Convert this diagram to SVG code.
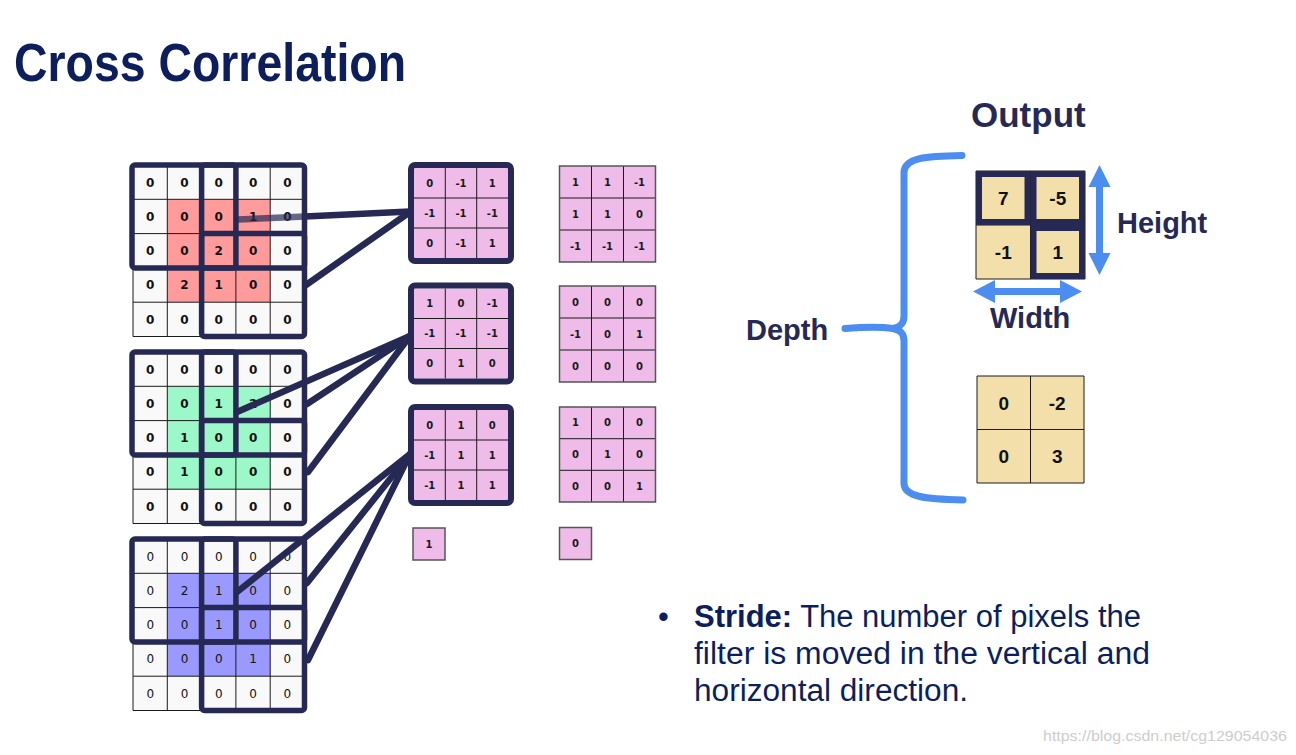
<svg xmlns="http://www.w3.org/2000/svg" width="1296" height="755" viewBox="0 0 1296 755">
<style>
.bg{fill:#f9f9f9}
.gl{fill:none;stroke:#1a1a1a;stroke-width:1}
.frame{fill:none;stroke:#262954;stroke-width:5.5}
.num{font-family:"DejaVu Sans",Verdana,sans-serif;font-size:12px;font-weight:bold;fill:#111;text-anchor:middle}
.numr{font-family:"DejaVu Sans",Verdana,sans-serif;font-size:12px;fill:#111;text-anchor:middle}
.fnum{font-family:"DejaVu Sans",Verdana,sans-serif;font-size:10px;font-weight:bold;fill:#1a1a1a;text-anchor:middle}
.pink{fill:#efbbe8}
.fframe{fill:none;stroke:#262954;stroke-width:6}
.fbox{fill:none;stroke:#555;stroke-width:1.5}
.conn{stroke:#262954;stroke-width:6.5;stroke-linecap:round;fill:none}
.lbl{font-family:"Liberation Sans",Arial,sans-serif;font-weight:bold;fill:#262954}
.tan{fill:#f3dfaa}
.onum{font-family:"Liberation Sans",Arial,sans-serif;font-size:19px;font-weight:bold;fill:#111;text-anchor:middle}
.oframe{fill:none;stroke:#262954;stroke-width:6}
.blue{fill:none;stroke:#4b8ef0;stroke-width:7;stroke-linecap:round;stroke-linejoin:round}
.barrow{fill:#4b8ef0}
.body{font-family:"Liberation Sans",Arial,sans-serif;font-size:31px;fill:#0c1f5c}
</style>

<g id="title">
<text x="14" y="81" font-family="Liberation Sans, Arial, sans-serif" font-size="54" font-weight="bold" fill="#0c1f5c" textLength="392" lengthAdjust="spacingAndGlyphs">Cross Correlation</text>
</g>

<!-- Input channel R -->
<g id="input-red">
<rect class="bg" x="133" y="165" width="171.5" height="171.5"/>
<rect x="167.3" y="199.3" width="102.9" height="102.9" fill="#ff9b9b"/>
<path class="gl" d="M133 165V336.5M167.3 165V336.5M201.6 165V336.5M235.9 165V336.5M270.2 165V336.5M304.5 165V336.5M133 165H304.5M133 199.3H304.5M133 233.6H304.5M133 267.9H304.5M133 302.2H304.5M133 336.5H304.5"/>
<text class="num" x="150.2 184.5 218.8 253.1 287.4" y="186.5">00000</text>
<text class="num" x="150.2 184.5 218.8 253.1 287.4" y="220.8">00010</text>
<text class="num" x="150.2 184.5 218.8 253.1 287.4" y="255.1">00200</text>
<text class="num" x="150.2 184.5 218.8 253.1 287.4" y="289.4">02100</text>
<text class="num" x="150.2 184.5 218.8 253.1 287.4" y="323.7">00000</text>
<rect class="frame" x="132" y="165" width="103.9" height="102.9" rx="3"/>
<rect class="frame" x="201.6" y="165" width="102.9" height="102.9" rx="3"/>
<rect class="frame" x="201.6" y="233.6" width="102.9" height="102.9" rx="3"/>
</g>

<!-- Input channel G -->
<g id="input-green">
<rect class="bg" x="133" y="352" width="171.5" height="171.5"/>
<rect x="167.3" y="386.3" width="102.9" height="102.9" fill="#9cf8c8"/>
<path class="gl" d="M133 352V523.5M167.3 352V523.5M201.6 352V523.5M235.9 352V523.5M270.2 352V523.5M304.5 352V523.5M133 352H304.5M133 386.3H304.5M133 420.6H304.5M133 454.9H304.5M133 489.2H304.5M133 523.5H304.5"/>
<text class="num" x="150.2 184.5 218.8 253.1 287.4" y="373.5">00000</text>
<text class="num" x="150.2 184.5 218.8 253.1 287.4" y="407.8">00120</text>
<text class="num" x="150.2 184.5 218.8 253.1 287.4" y="442.1">01000</text>
<text class="num" x="150.2 184.5 218.8 253.1 287.4" y="476.4">01000</text>
<text class="num" x="150.2 184.5 218.8 253.1 287.4" y="510.7">00000</text>
<rect class="frame" x="132" y="352" width="103.9" height="102.9" rx="3"/>
<rect class="frame" x="201.6" y="352" width="102.9" height="102.9" rx="3"/>
<rect class="frame" x="201.6" y="420.6" width="102.9" height="102.9" rx="3"/>
</g>

<!-- Input channel B -->
<g id="input-blue">
<rect class="bg" x="133" y="539" width="171.5" height="171.5"/>
<rect x="167.3" y="573.3" width="102.9" height="102.9" fill="#9999ff"/>
<path class="gl" d="M133 539V710.5M167.3 539V710.5M201.6 539V710.5M235.9 539V710.5M270.2 539V710.5M304.5 539V710.5M133 539H304.5M133 573.3H304.5M133 607.6H304.5M133 641.9H304.5M133 676.2H304.5M133 710.5H304.5"/>
<text class="numr" x="150.2 184.5 218.8 253.1 287.4" y="560.5">00000</text>
<text class="numr" x="150.2 184.5 218.8 253.1 287.4" y="594.8">02100</text>
<text class="numr" x="150.2 184.5 218.8 253.1 287.4" y="629.1">00100</text>
<text class="numr" x="150.2 184.5 218.8 253.1 287.4" y="663.4">00010</text>
<text class="numr" x="150.2 184.5 218.8 253.1 287.4" y="697.7">00000</text>
<rect class="frame" x="132" y="539" width="103.9" height="102.9" rx="3"/>
<rect class="frame" x="201.6" y="539" width="102.9" height="102.9" rx="3"/>
<rect class="frame" x="201.6" y="607.6" width="102.9" height="102.9" rx="3"/>
</g>

<!-- Filter W0 -->
<g id="w0-r">
<rect class="pink" x="414" y="168" width="94" height="90"/>
<path class="gl" d="M445.3 168V258M476.7 168V258M414 198H508M414 228H508"/>
<text class="fnum" x="429.7" y="186.6">0</text><text class="fnum" x="461" y="186.6">-1</text><text class="fnum" x="492.3" y="186.6">1</text>
<text class="fnum" x="429.7" y="216.6">-1</text><text class="fnum" x="461" y="216.6">-1</text><text class="fnum" x="492.3" y="216.6">-1</text>
<text class="fnum" x="429.7" y="246.6">0</text><text class="fnum" x="461" y="246.6">-1</text><text class="fnum" x="492.3" y="246.6">1</text>
<rect class="fframe" x="411" y="165" width="100" height="96" rx="4"/>
</g>
<g id="w0-g">
<rect class="pink" x="414" y="288.5" width="94" height="90"/>
<path class="gl" d="M445.3 288.5V378.5M476.7 288.5V378.5M414 318.5H508M414 348.5H508"/>
<text class="fnum" x="429.7" y="307.1">1</text><text class="fnum" x="461" y="307.1">0</text><text class="fnum" x="492.3" y="307.1">-1</text>
<text class="fnum" x="429.7" y="337.1">-1</text><text class="fnum" x="461" y="337.1">-1</text><text class="fnum" x="492.3" y="337.1">-1</text>
<text class="fnum" x="429.7" y="367.1">0</text><text class="fnum" x="461" y="367.1">1</text><text class="fnum" x="492.3" y="367.1">0</text>
<rect class="fframe" x="411" y="285.5" width="100" height="96" rx="4"/>
</g>
<g id="w0-b">
<rect class="pink" x="414" y="410" width="94" height="90"/>
<path class="gl" d="M445.3 410V500M476.7 410V500M414 440H508M414 470H508"/>
<text class="fnum" x="429.7" y="428.6">0</text><text class="fnum" x="461" y="428.6">1</text><text class="fnum" x="492.3" y="428.6">0</text>
<text class="fnum" x="429.7" y="458.6">-1</text><text class="fnum" x="461" y="458.6">1</text><text class="fnum" x="492.3" y="458.6">1</text>
<text class="fnum" x="429.7" y="488.6">-1</text><text class="fnum" x="461" y="488.6">1</text><text class="fnum" x="492.3" y="488.6">1</text>
<rect class="fframe" x="411" y="407" width="100" height="96" rx="4"/>
</g>
<g id="b0">
<rect class="pink" x="413" y="528" width="32" height="32"/>
<rect class="fbox" x="413" y="528" width="32" height="32"/>
<text class="fnum" x="429" y="547.6">1</text>
</g>

<!-- Filter W1 -->
<g id="w1-r">
<rect class="pink" x="559.5" y="166" width="96" height="96"/>
<path class="gl" d="M591.5 166V262M623.5 166V262M559.5 198H655.5M559.5 230H655.5"/>
<rect class="fbox" x="559.5" y="166" width="96" height="96"/>
<text class="fnum" x="575.5" y="185.6">1</text><text class="fnum" x="607.5" y="185.6">1</text><text class="fnum" x="639.5" y="185.6">-1</text>
<text class="fnum" x="575.5" y="217.6">1</text><text class="fnum" x="607.5" y="217.6">1</text><text class="fnum" x="639.5" y="217.6">0</text>
<text class="fnum" x="575.5" y="249.6">-1</text><text class="fnum" x="607.5" y="249.6">-1</text><text class="fnum" x="639.5" y="249.6">-1</text>
</g>
<g id="w1-g">
<rect class="pink" x="559.5" y="286" width="96" height="96"/>
<path class="gl" d="M591.5 286V382M623.5 286V382M559.5 318H655.5M559.5 350H655.5"/>
<rect class="fbox" x="559.5" y="286" width="96" height="96"/>
<text class="fnum" x="575.5" y="305.6">0</text><text class="fnum" x="607.5" y="305.6">0</text><text class="fnum" x="639.5" y="305.6">0</text>
<text class="fnum" x="575.5" y="337.6">-1</text><text class="fnum" x="607.5" y="337.6">0</text><text class="fnum" x="639.5" y="337.6">1</text>
<text class="fnum" x="575.5" y="369.6">0</text><text class="fnum" x="607.5" y="369.6">0</text><text class="fnum" x="639.5" y="369.6">0</text>
</g>
<g id="w1-b">
<rect class="pink" x="559.5" y="407" width="96" height="95"/>
<path class="gl" d="M591.5 407V502M623.5 407V502M559.5 438.7H655.5M559.5 470.3H655.5"/>
<rect class="fbox" x="559.5" y="407" width="96" height="95"/>
<text class="fnum" x="575.5" y="426.4">1</text><text class="fnum" x="607.5" y="426.4">0</text><text class="fnum" x="639.5" y="426.4">0</text>
<text class="fnum" x="575.5" y="458.1">0</text><text class="fnum" x="607.5" y="458.1">1</text><text class="fnum" x="639.5" y="458.1">0</text>
<text class="fnum" x="575.5" y="489.8">0</text><text class="fnum" x="607.5" y="489.8">0</text><text class="fnum" x="639.5" y="489.8">1</text>
</g>
<g id="b1">
<rect class="pink" x="559.5" y="527.5" width="32" height="32"/>
<rect class="fbox" x="559.5" y="527.5" width="32" height="32"/>
<text class="fnum" x="575.5" y="547.1">0</text>
</g>

<!-- Connectors -->
<g id="connectors">
<line class="conn" x1="238" y1="219.5" x2="305" y2="216.4" stroke="#6a1530" stroke-opacity="0.7"/>
<line class="conn" x1="305" y1="216.4" x2="410" y2="211.5"/>
<line class="conn" x1="306" y1="285" x2="410" y2="212"/>
<line class="conn" x1="237" y1="412" x2="410" y2="336"/>
<line class="conn" x1="307" y1="404" x2="410" y2="336"/>
<line class="conn" x1="308" y1="472" x2="410" y2="336"/>
<line class="conn" x1="237" y1="592" x2="410" y2="454"/>
<line class="conn" x1="307" y1="583" x2="410" y2="454"/>
<line class="conn" x1="308" y1="660" x2="410" y2="454"/>
</g>

<!-- Output -->
<g id="output-label">
<text class="lbl" x="971" y="127" font-size="35">Output</text>
</g>
<g id="output-0">
<rect class="tan" x="976" y="171" width="109" height="108"/>
<path class="gl" d="M976 171H1085V279H976ZM1030.5 171V279M976 225H1085"/>
<rect class="oframe" x="979" y="174" width="48.5" height="48"/>
<rect class="oframe" x="1033.5" y="174" width="48.5" height="48"/>
<rect class="oframe" x="1033.5" y="228" width="48.5" height="48"/>
<text class="onum" x="1003.3" y="205">7</text>
<text class="onum" x="1057.8" y="205">-5</text>
<text class="onum" x="1003.3" y="259">-1</text>
<text class="onum" x="1057.8" y="259">1</text>
</g>
<g id="output-1">
<rect class="tan" x="977" y="376" width="107" height="107"/>
<path class="gl" d="M977 376H1084V483H977ZM1030.5 376V483M977 429.5H1084"/>
<text class="onum" x="1003.7" y="409.5">0</text>
<text class="onum" x="1057.2" y="409.5">-2</text>
<text class="onum" x="1003.7" y="463">0</text>
<text class="onum" x="1057.2" y="463">3</text>
</g>
<g id="height-arrow">
<polygon class="barrow" points="1099.5,165 1110.5,187 1103,187 1103,253 1110.5,253 1099.5,275 1088.5,253 1096,253 1096,187 1088.5,187"/>
<text class="lbl" x="1117" y="233" font-size="29">Height</text>
</g>
<g id="width-arrow">
<polygon class="barrow" points="973,291.5 995,280 995,288 1060,288 1060,280 1082,291.5 1060,303 1060,295 995,295 995,303"/>
<text class="lbl" x="990" y="327.5" font-size="29">Width</text>
</g>
<g id="depth-brace">
<path class="blue" d="M962 155.5C925 156 905 158 904 172L904 316C904 324 900 327 893 328.5C900 330 904 333 904 341L904 484C905 497 925 499 963 500"/>
<path class="blue" d="M845 328.5C865 327 882 327 893 328.5"/>
<text class="lbl" x="746" y="340" font-size="29">Depth</text>
</g>

<g id="stride-text">
<text class="body" x="658" y="627">•</text>
<text class="body" x="694" y="627" textLength="447" lengthAdjust="spacingAndGlyphs"><tspan font-weight="bold">Stride:</tspan> The number of pixels the</text>
<text class="body" x="694" y="664" textLength="456" lengthAdjust="spacingAndGlyphs">filter is moved in the vertical and</text>
<text class="body" x="694" y="701" textLength="274" lengthAdjust="spacingAndGlyphs">horizontal direction.</text>
</g>
<text x="1043" y="741" font-family="Liberation Sans, Arial, sans-serif" font-size="14" fill="#cdcdcd" textLength="244" lengthAdjust="spacingAndGlyphs">https://blog.csdn.net/cg129054036</text>
</svg>
